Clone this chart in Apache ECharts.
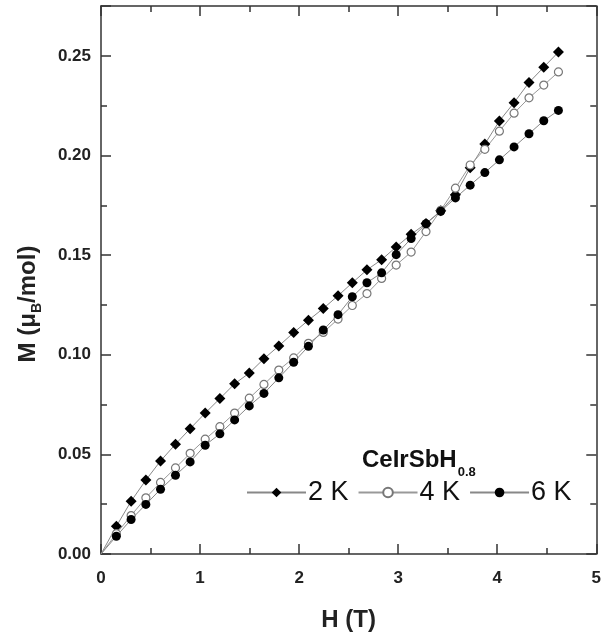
<!DOCTYPE html>
<html>
<head>
<meta charset="utf-8">
<script src="https://cdn.jsdelivr.net/npm/echarts@6/dist/echarts.min.js"></script>
<style>html,body{margin:0;padding:0;background:#fff}#c{width:604px;height:637px}</style>
</head>
<body>
<div id="c"></div>
<script>
// Magnetic field H (T)
const H = [0, 0.155, 0.304, 0.453, 0.601, 0.752, 0.900, 1.052, 1.200, 1.349, 1.497, 1.645, 1.795, 1.945, 2.094, 2.244, 2.393, 2.537, 2.685, 2.833, 2.980, 3.131, 3.281, 3.430, 3.578, 3.727, 3.875, 4.022, 4.170, 4.321, 4.470, 4.618];
// Magnetization M (muB/mol)
const M2K = [0, 0.0139, 0.0265, 0.0371, 0.0467, 0.0551, 0.0629, 0.0707, 0.0780, 0.0854, 0.0908, 0.0980, 0.1044, 0.1111, 0.1173, 0.1232, 0.1296, 0.1361, 0.1426, 0.1477, 0.1541, 0.1604, 0.1659, 0.1722, 0.1803, 0.1938, 0.2057, 0.2173, 0.2265, 0.2366, 0.2443, 0.2519];
const M4K = [0, 0.0102, 0.0193, 0.0282, 0.0359, 0.0432, 0.0505, 0.0576, 0.0639, 0.0707, 0.0782, 0.0851, 0.0923, 0.0984, 0.1057, 0.1112, 0.1179, 0.1247, 0.1307, 0.1383, 0.1450, 0.1515, 0.1618, 0.1725, 0.1836, 0.1952, 0.2031, 0.2122, 0.2212, 0.2289, 0.2353, 0.2419];
const M6K = [0, 0.0089, 0.0173, 0.0249, 0.0325, 0.0395, 0.0462, 0.0546, 0.0603, 0.0673, 0.0743, 0.0806, 0.0884, 0.0962, 0.1042, 0.1124, 0.1201, 0.1291, 0.1361, 0.1411, 0.1502, 0.1583, 0.1657, 0.1720, 0.1787, 0.1851, 0.1914, 0.1978, 0.2043, 0.2109, 0.2174, 0.2226];
const seriesNames = ['2 K', '4 K', '6 K'];
const xTicks = [0, 1, 2, 3, 4, 5];
const yTicks = [0, 0.05, 0.10, 0.15, 0.20, 0.25];

const FONT = '"Liberation Sans", Arial, sans-serif';
function pts(M) {
  return H.map((h, i) => i === 0 ? { value: [h, M[i]], symbol: 'none' } : [h, M[i]]);
}
const axisCommon = {
  type: 'value',
  axisLine: { show: true, onZero: false, lineStyle: { color: '#333', width: 1.5 } },
  axisTick: { show: true, inside: true, length: 10, lineStyle: { color: '#333', width: 1.5 } },
  minorTick: { show: true, splitNumber: 2, length: 6, lineStyle: { color: '#333', width: 1.5 } },
  splitLine: { show: false },
  minorSplitLine: { show: false }
};
const chart = echarts.init(document.getElementById('c'), null, { renderer: 'canvas' });
chart.setOption({
  backgroundColor: '#fff',
  animation: false,
  grid: { left: 101, right: 7, top: 6, bottom: 83 },
  title: {
    text: '{a|CeIrSbH}{b|0.8}',
    left: 362, top: 441,
    padding: 0,
    textStyle: {
      rich: {
        a: { fontSize: 24, fontWeight: 'bold', fontFamily: FONT, color: '#111', lineHeight: 27 },
        b: { fontSize: 13, fontWeight: 'bold', fontFamily: FONT, color: '#111', verticalAlign: 'bottom', padding: [25, 0, 0, 1] }
      }
    }
  },
  legend: {
    data: seriesNames,
    left: 246, top: 479,
    padding: 0,
    itemWidth: 59, itemHeight: 12, itemGap: 9,
    textStyle: { fontSize: 27, fontFamily: FONT, color: '#111', padding: [0, 0, 0, -3] }
  },
  xAxis: [
    Object.assign({}, axisCommon, {
      position: 'bottom', min: 0, max: 5, interval: 1,
      axisLabel: { margin: 16, fontSize: 17, fontWeight: 'bold', fontFamily: FONT, color: '#222',
        formatter: v => xTicks.includes(v) ? String(v) : '' },
      name: 'H (T)', nameLocation: 'middle', nameGap: 54,
      nameTextStyle: { fontSize: 24, fontWeight: 'bold', fontFamily: FONT, color: '#222' }
    }),
    Object.assign({}, axisCommon, { position: 'top', min: 0, max: 5, interval: 1, axisLabel: { show: false } })
  ],
  yAxis: [
    Object.assign({}, axisCommon, {
      position: 'left', min: 0, max: 0.275, interval: 0.05,
      axisLabel: { margin: 10, fontSize: 17, fontWeight: 'bold', fontFamily: FONT, color: '#222',
        formatter: v => yTicks.some(t => Math.abs(t - v) < 1e-9) ? v.toFixed(2) : '' },
      name: '{a|M (μ}{b|B}{a|/mol)}', nameLocation: 'middle', nameGap: 57, nameRotate: 90,
      nameTextStyle: {
        padding: [0, 48, 0, 0],
        rich: {
          a: { fontSize: 24, fontWeight: 'bold', fontFamily: FONT, color: '#222', lineHeight: 28 },
          b: { fontSize: 14, fontWeight: 'bold', fontFamily: FONT, color: '#222', verticalAlign: 'bottom', padding: [18, 0, 0, 0] }
        }
      }
    }),
    Object.assign({}, axisCommon, { position: 'right', min: 0, max: 0.275, interval: 0.05, axisLabel: { show: false } })
  ],
  series: [
    {
      name: seriesNames[0], type: 'line', data: pts(M2K),
      symbol: 'diamond', symbolSize: 11,
      itemStyle: { color: '#000' },
      lineStyle: { color: '#888', width: 1 }
    },
    {
      name: seriesNames[1], type: 'line', data: pts(M4K),
      symbol: 'circle', symbolSize: 8,
      itemStyle: { color: '#fff', borderColor: '#777', borderWidth: 1.2 },
      lineStyle: { color: '#999', width: 1 }
    },
    {
      name: seriesNames[2], type: 'line', data: pts(M6K),
      symbol: 'circle', symbolSize: 9,
      itemStyle: { color: '#000' },
      lineStyle: { color: '#888', width: 1 }
    }
  ]
});
</script>
</body>
</html>
